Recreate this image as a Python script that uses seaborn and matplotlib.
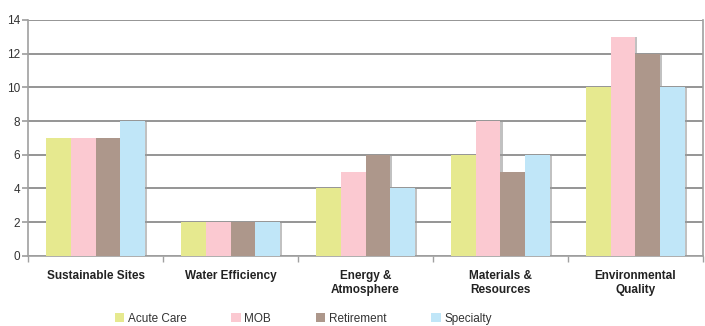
import matplotlib
matplotlib.use("Agg")
import matplotlib.pyplot as plt
import matplotlib.patheffects as pe
import seaborn as sns
import pandas as pd

categories = ["Sustainable Sites", "Water Efficiency", "Energy &\nAtmosphere",
              "Materials &\nResources", "Environmental\nQuality"]
series = ["Acute Care", "MOB", "Retirement", "Specialty"]
acute_care = [7, 2, 4, 6, 10]
mob = [7, 2, 5, 8, 13]
retirement = [7, 2, 6, 5, 12]
specialty = [8, 2, 4, 6, 10]
colors = ["#e6e98f", "#fbc9d1", "#ad978b", "#c0e6f8"]

rows = []
for name, vals in zip(series, [acute_care, mob, retirement, specialty]):
    for c, v in zip(categories, vals):
        rows.append({"category": c, "series": name, "value": v})
df = pd.DataFrame(rows)

sns.set_theme(style="white")
plt.rcParams["font.family"] = ["Liberation Sans", "DejaVu Sans"]

fig = plt.figure(figsize=(7.05, 3.26), dpi=100)
ax = fig.add_axes([0.040, 0.215, 0.957, 0.724])

sns.barplot(data=df, x="category", y="value", hue="series", order=categories,
            hue_order=series, palette=colors, width=0.73, gap=0,
            saturation=1, ax=ax, zorder=3, edgecolor="none", linewidth=0)

# legend entries are built before the bar shadows are added
handles, labels = ax.get_legend_handles_labels()
for h in handles:
    h.set_edgecolor("none")
    h.set_path_effects([])
ax.get_legend().remove()

for p in ax.patches:
    p.set_path_effects([pe.SimplePatchShadow(offset=(1.5, -0.5), shadow_rgbFace="#999999", alpha=0.6),
                        pe.Normal()])

ax.set_ylim(0, 14)
ax.set_yticks(range(0, 15, 2))
ax.set_xlim(-0.5, 4.5)
ax.yaxis.grid(True, color="#8c8c8c", linewidth=1.3, zorder=0)
ax.set_axisbelow(True)
for s in ["left", "bottom", "right"]:
    ax.spines[s].set_color("#a0a0a0")
    ax.spines[s].set_linewidth(1.2)
ax.spines["top"].set_visible(False)

ax.set_xlabel("")
ax.set_ylabel("")
ax.tick_params(axis="y", left=True, length=4, color="#a0a0a0", labelsize=8.5,
               labelcolor="#333333", pad=2)
ax.set_xticks(range(5))
ax.set_xticklabels(categories, fontsize=8.5, fontweight="bold", color="#222222",
                   linespacing=1.3)
ax.tick_params(axis="x", bottom=False, pad=4)
# category boundary ticks along the baseline
ax.set_xticks([i - 0.5 for i in range(6)], minor=True)
ax.tick_params(axis="x", which="minor", bottom=True, length=4, color="#a0a0a0")

leg = fig.legend(handles, labels, loc="center", bbox_to_anchor=(0.43, 0.022),
                 ncol=4, frameon=False, fontsize=8.5, handlelength=0.8, handleheight=0.8,
                 columnspacing=3.8, handletextpad=0.3, labelcolor="#333333",
                 borderaxespad=0, borderpad=0)
for h in leg.legend_handles:
    h.set_path_effects([])

fig.savefig("out.png", dpi=100)
